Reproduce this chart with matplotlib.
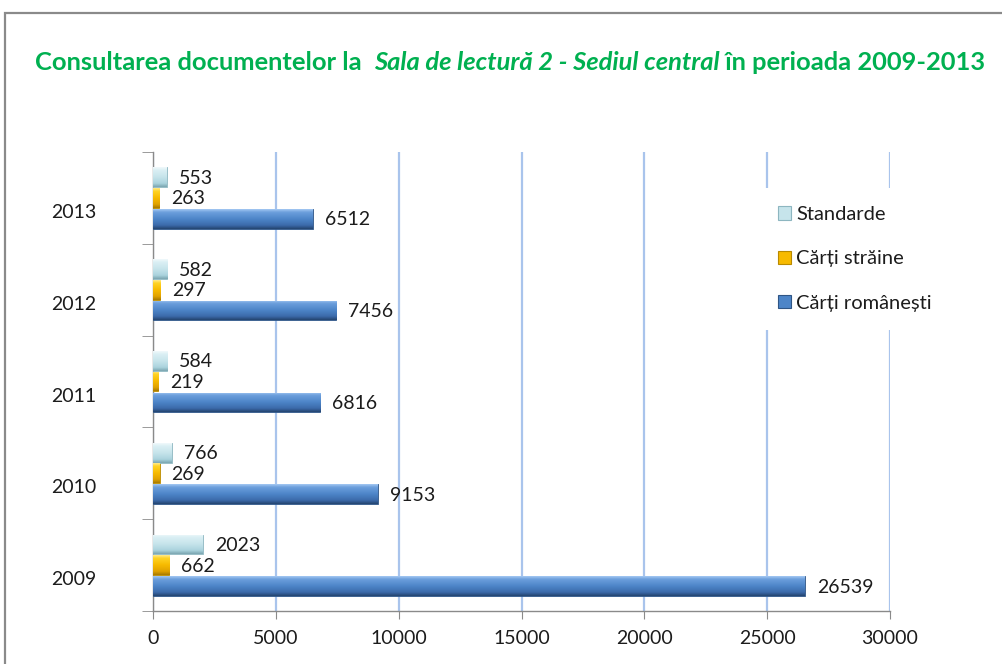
import matplotlib
matplotlib.use('Agg')
import matplotlib.pyplot as plt
import numpy as np
from matplotlib.patches import Rectangle, Patch
from matplotlib.colors import LinearSegmentedColormap
from matplotlib.transforms import ScaledTranslation

# ---- data ----
years = ['2009', '2010', '2011', '2012', '2013']
carti_romanesti = [26539, 9153, 6816, 7456, 6512]
carti_straine = [662, 269, 219, 297, 263]
standarde = [2023, 766, 584, 582, 553]
series_names = ['Cărți românești', 'Cărți străine', 'Standarde']
x_ticks = [0, 5000, 10000, 15000, 20000, 25000, 30000]
title_parts = ['Consultarea documentelor la  ', 'Sala de lectură 2 - Sediul central', ' în perioada 2009-2013']

plt.rcParams['font.family'] = ['Lato', 'DejaVu Sans']

W, H = 1003, 664
fig = plt.figure(figsize=(W / 100, H / 100), dpi=100)
fig.patch.set_facecolor('white')

# outer frame
fig.add_artist(Rectangle((5 / W, -0.1), 1.2, (1 - 13 / H) + 0.1, transform=fig.transFigure,
                         fill=False, edgecolor='#8a8a8a', lw=1.6, zorder=0))

ax = fig.add_axes([153 / W, 1 - 611 / H, 737 / W, 459 / H])

pos = np.arange(len(years))
bh = 0.215
offsets = [-0.228, 0.0, 0.225]
series = [carti_romanesti, carti_straine, standarde]
grad_stops = [
    ['#A4C8F2', '#6C9FDC', '#4D85C8', '#3B6AAA', '#24446F'],
    ['#FFE98A', '#FFD324', '#F7BA00', '#E0A200', '#A97A00'],
    ['#F1F9FB', '#DAEFF4', '#C6E4EB', '#AAD3DD', '#7BA6B1'],
]
mid_colors = ['#4D85C8', '#F7BA00', '#C6E4EB']
edge_colors = ['#2F5585', '#B98A00', '#8DB6C0']

txt_color = '#1c1c1c'
fs = 14

for vals, off, stops, mc, ec in zip(series, offsets, grad_stops, mid_colors, edge_colors):
    bars = ax.barh(pos + off, vals, height=bh, color=mc, edgecolor=ec, lw=0.6, zorder=3)
    cmap = LinearSegmentedColormap.from_list('g', list(zip([0, 0.15, 0.5, 0.82, 1.0], stops)))
    grad = cmap(np.linspace(0, 1, 64))[:, None, :3]
    for r, v in zip(bars, vals):
        x0, y0, w, h = r.get_x(), r.get_y(), r.get_width(), r.get_height()
        im = ax.imshow(grad, extent=[x0, x0 + w, y0, y0 + h], aspect='auto',
                       origin='upper', zorder=3.5, interpolation='bilinear')
        im.set_clip_path(r)
        ax.annotate(f'{v}', xy=(v, r.get_y() + h / 2), xytext=(12, -1),
                    textcoords='offset pixels', va='center', ha='left',
                    fontsize=fs, color=txt_color, zorder=5)

ax.set_xlim(0, 30000)
ax.set_ylim(-0.5, len(years) - 0.5)
ax.set_aspect('auto')

# axes styling
for s in ['top', 'right']:
    ax.spines[s].set_visible(False)
for s in ['left', 'bottom']:
    ax.spines[s].set_color('#8a8a8a')
    ax.spines[s].set_linewidth(1.0)

ax.set_xticks(x_ticks)
ax.set_xticklabels([str(t) for t in x_ticks])
ax.tick_params(axis='x', length=6, color='#8a8a8a', labelsize=fs, labelcolor=txt_color, pad=8)
ax.xaxis.grid(True, color='#A9C4EC', lw=1.6, zorder=0)
ax.set_axisbelow(True)

ax.set_yticks(pos)
ax.set_yticklabels(years)
ax.tick_params(axis='y', which='major', length=0, labelsize=fs, labelcolor=txt_color, pad=41)
ax.set_yticks(np.arange(-0.5, len(years)), minor=True)
ax.tick_params(axis='y', which='minor', length=8, color='#8a8a8a')
for lab in ax.get_yticklabels():
    lab.set_transform(lab.get_transform() + ScaledTranslation(0, -0.13, fig.dpi_scale_trans))

# legend
handles = [Patch(facecolor=mc, edgecolor=ec, lw=0.8) for mc, ec in zip(mid_colors, edge_colors)]
order = [2, 1, 0]
lfs = 14.5
leg = ax.legend([handles[i] for i in order], [series_names[i] for i in order],
                loc='upper left', bbox_to_anchor=(760 / W, 1 - 188 / H),
                bbox_transform=fig.transFigure, fontsize=lfs, frameon=True,
                handlelength=0.65, handleheight=0.65, handletextpad=0.25,
                labelspacing=1.35, borderpad=0.9, borderaxespad=0)
leg.get_frame().set_facecolor('white')
leg.get_frame().set_edgecolor('none')
leg.get_frame().set_alpha(1)
leg.set_zorder(6)
for t in leg.get_texts():
    t.set_color(txt_color)

# title with mixed styles
green = '#00B050'
tfs = 15.5
renderer = fig.canvas.get_renderer()
styles = ['normal', 'italic', 'normal']
texts = []
for part, st in zip(title_parts, styles):
    t = fig.text(0, 0, part, fontsize=tfs, fontweight='bold', style=st, color=green,
                 ha='left', va='center')
    texts.append(t)
widths = [t.get_window_extent(renderer).width for t in texts]
total = sum(widths)
scale = 950 / total
for t in texts:
    t.set_fontsize(tfs * scale)
widths = [t.get_window_extent(renderer).width for t in texts]
total = sum(widths)
x = 510 - total / 2
for t, w in zip(texts, widths):
    t.set_position((x / W, 1 - 63 / H))
    x += w

fig.savefig('out.png', dpi=100, facecolor='white')
